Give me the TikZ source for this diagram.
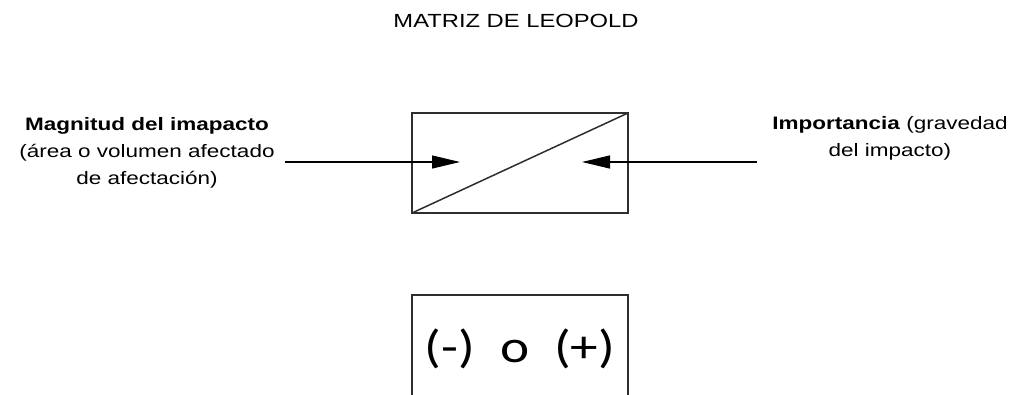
\documentclass[tikz,border=0pt]{standalone}
\usepackage{fontspec}
\setmainfont{Liberation Sans}[FakeStretch=1.25]
\newfontfamily\calib{Carlito}[FakeStretch=1.2]
\usetikzlibrary{arrows.meta}
\definecolor{linegray}{HTML}{2E2E2E}
\begin{document}
\begin{tikzpicture}[x=1pt,y=-1pt,
  boxstyle/.style={draw=linegray,line width=1.7pt},
  lbl/.style={align=center,inner sep=0pt,font=\fontsize{18}{27}\selectfont},
  arr/.style={draw=black,line width=1.2pt,-{Triangle[length=28pt,width=13pt]}}]
\useasboundingbox (0,0) rectangle (1021,394);
\node[inner sep=0pt,font=\fontsize{19}{22}\selectfont] (title) at (516,21) {MATRIZ DE LEOPOLD};
\coordinate (bl) at (412,213);
\coordinate (tr) at (628,113);
\draw[boxstyle] (bl) rectangle (tr);
\draw[boxstyle,line width=1.5pt] (bl) -- (tr);
\node[lbl] (left) at (147,153) {\textbf{Magnitud del imapacto}\\(área o volumen afectado\\de afectación)};
\node[lbl] (right) at (890,138) {\textbf{Importancia} (gravedad\\del impacto)};
\coordinate (ls) at (285,162);
\coordinate (lt) at (460,162);
\coordinate (rs) at (757,162);
\coordinate (rt) at (582,162);
\draw[arr] (ls) -- (lt);
\draw[arr] (rs) -- (rt);
\draw[boxstyle] (412,400) |- (628,295) -- (628,400);
\node[inner sep=0pt,font=\calib\fontsize{46}{46}\selectfont] (sign) at (520,349) {(-)\ \ o\ \ (+)};
\end{tikzpicture}
\end{document}
